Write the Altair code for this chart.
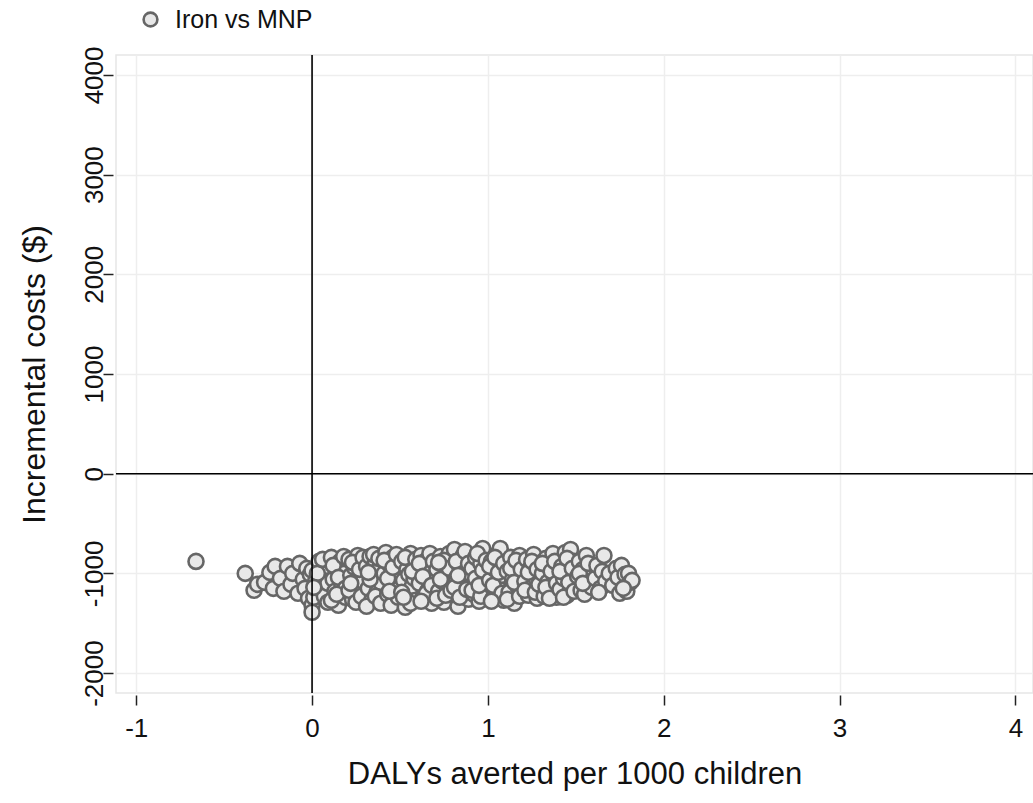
import altair as alt
import pandas as pd

# DALYs averted per 1000 children (x) and incremental costs in $ (y)
dalys = [
    -0.66,
    -0.38, -0.33, -0.31, -0.27, -0.24, -0.22, -0.21,
    -0.18, -0.16, -0.14, -0.12, -0.11,
    -0.08, -0.07, -0.05, -0.04, -0.03, -0.02, -0.01,
    0.00, 0.00, 0.01, 0.00, 0.02, 0.04, 0.05, 0.06, 0.07, 0.08, 0.09, 0.03, 0.06, 0.09, 0.01,
    0.11, 0.12, 0.13, 0.14, 0.15, 0.16, 0.17, 0.18, 0.19, 0.12, 0.15, 0.18, 0.19, 0.11, 0.14,
    0.21, 0.22, 0.23, 0.24, 0.25, 0.26, 0.27, 0.28, 0.29, 0.21, 0.23, 0.25, 0.27, 0.29, 0.22, 0.28,
    0.31, 0.32, 0.33, 0.34, 0.35, 0.36, 0.37, 0.38, 0.39, 0.31, 0.33, 0.35, 0.36, 0.38, 0.39, 0.32,
    0.41, 0.42, 0.43, 0.44, 0.45, 0.46, 0.47, 0.48, 0.49, 0.41, 0.43, 0.45, 0.46, 0.48, 0.49, 0.44,
    0.51, 0.52, 0.53, 0.54, 0.55, 0.56, 0.57, 0.58, 0.59, 0.51, 0.53, 0.55, 0.56, 0.58, 0.59, 0.52, 0.57,
    0.61, 0.62, 0.63, 0.64, 0.65, 0.66, 0.67, 0.68, 0.69, 0.61, 0.63, 0.65, 0.67, 0.68, 0.69, 0.62,
    0.71, 0.72, 0.73, 0.74, 0.75, 0.76, 0.77, 0.78, 0.79, 0.71, 0.73, 0.75, 0.76, 0.78, 0.79, 0.72,
    0.81, 0.82, 0.83, 0.84, 0.85, 0.86, 0.87, 0.88, 0.89, 0.81, 0.82, 0.84, 0.86, 0.87, 0.88, 0.89, 0.83,
    0.91, 0.92, 0.93, 0.94, 0.95, 0.96, 0.97, 0.98, 0.99, 0.91, 0.93, 0.94, 0.96, 0.97, 0.99, 0.95,
    1.01, 1.02, 1.03, 1.04, 1.05, 1.06, 1.07, 1.08, 1.09, 1.01, 1.03, 1.04, 1.06, 1.08, 1.09, 1.02,
    1.11, 1.12, 1.13, 1.14, 1.15, 1.16, 1.17, 1.18, 1.19, 1.11, 1.13, 1.15, 1.16, 1.18, 1.19,
    1.21, 1.22, 1.23, 1.24, 1.25, 1.26, 1.27, 1.28, 1.29, 1.21, 1.23, 1.25, 1.27, 1.28, 1.29,
    1.31, 1.32, 1.33, 1.34, 1.35, 1.36, 1.37, 1.38, 1.39, 1.31, 1.33, 1.35, 1.36, 1.38, 1.39,
    1.41, 1.42, 1.43, 1.44, 1.45, 1.46, 1.47, 1.48, 1.49, 1.41, 1.43, 1.45, 1.46, 1.48, 1.49,
    1.51, 1.52, 1.53, 1.54, 1.55, 1.56, 1.57, 1.58, 1.59, 1.52, 1.54, 1.57,
    1.61, 1.62, 1.64, 1.65, 1.66, 1.67, 1.69, 1.63,
    1.71, 1.73, 1.74, 1.75, 1.76, 1.78, 1.79, 1.80, 1.81, 1.82, 1.77,
]
costs = [
    -880,
    -1000, -1170, -1110, -1090, -990, -1150, -930,
    -1050, -1180, -930, -1110, -1000,
    -1200, -900, -1060, -1150, -950, -1250, -1010,
    -1320, -1390, -1240, -970, -1080, -880, -1160, -1010, -1230, -930, -1100, -1000, -860, -1290, -1140,
    -840, -1060, -1180, -950, -1320, -880, -1120, -1000, -1240, -920, -1040, -830, -1150, -1270, -1210,
    -860, -1020, -1260, -940, -1130, -820, -1200, -990, -1080, -1170, -890, -1290, -960, -840, -1100, -1230,
    -930, -1150, -830, -1270, -1020, -880, -1190, -960, -1090, -1330, -1060, -810, -1230, -850, -1300, -990,
    -1000, -790, -1210, -910, -1110, -840, -1280, -980, -1160, -870, -1050, -1320, -940, -810, -1240, -1180,
    -880, -1070, -1340, -960, -1210, -800, -1130, -920, -1270, -1190, -840, -1010, -1300, -1050, -860, -1240, -980,
    -1100, -820, -1250, -990, -870, -1170, -940, -1300, -1060, -900, -1030, -1200, -800, -1120, -880, -1280,
    -960, -1180, -830, -1080, -1290, -910, -1140, -800, -1010, -1250, -1060, -870, -1220, -950, -1170, -890,
    -760, -1050, -1330, -930, -1190, -820, -1100, -990, -1260, -1140, -880, -1240, -1000, -780, -1160, -900, -1020,
    -950, -1210, -840, -1080, -1280, -900, -750, -1130, -1010, -1170, -1050, -800, -1230, -970, -870, -1120,
    -1070, -880, -1250, -960, -810, -1150, -750, -1020, -1270, -930, -1120, -840, -990, -1200, -900, -1280,
    -980, -1190, -840, -1060, -1300, -910, -1130, -820, -1010, -1260, -950, -1090, -870, -1230, -960,
    -1080, -860, -1220, -950, -1140, -810, -1040, -1250, -900, -1170, -990, -880, -1190, -960, -1110,
    -1000, -1230, -850, -1090, -940, -1180, -800, -1050, -1240, -900, -1140, -1250, -980, -880, -1100,
    -1160, -930, -1050, -790, -1220, -1000, -760, -1120, -880, -980, -1240, -850, -1090, -950, -1180,
    -1030, -880, -1170, -960, -1210, -820, -1080, -940, -1140, -1000, -1100, -900,
    -1050, -920, -1150, -980, -820, -1080, -1000, -1190,
    -1120, -950, -1040, -1200, -920, -1010, -1180, -1000, -1090, -1070, -1150,
]
series_name = "Iron vs MNP"
x_ticks = [-1, 0, 1, 2, 3, 4]
y_ticks = [-2000, -1000, 0, 1000, 2000, 3000, 4000]

FONT = "Liberation Sans"

df = pd.DataFrame({"dalys": dalys, "costs": costs, "series": series_name})

x_scale = alt.Scale(domain=[-1.115, 4.1], nice=False, zero=False)
y_scale = alt.Scale(domain=[-2200, 4200], nice=False, zero=False)

x_axis = alt.Axis(
    values=x_ticks, title="DALYs averted per 1000 children", domain=False,
    labelExpr="datum.value + ''",
    offset=2, tickSize=10, tickWidth=1.5, tickColor="#222222",
    labelPadding=10, labelFontSize=26, labelColor="#111111", labelFont=FONT,
    titleFontSize=31, titleFontWeight="normal", titleFont=FONT, titleColor="#111111",
    titlePadding=18, gridColor="#eeeeee", gridWidth=1.5, labelFlush=False,
)
y_axis = alt.Axis(
    values=y_ticks, title="Incremental costs ($)", domain=False,
    labelExpr="datum.value + ''",
    offset=3, tickSize=10, tickWidth=1.5, tickColor="#222222",
    labelAngle=270, labelAlign="center", labelBaseline="alphabetic", labelPadding=1,
    labelFontSize=26, labelColor="#111111", labelFont=FONT,
    titleFontSize=32, titleFontWeight="normal", titleFont=FONT, titleColor="#111111",
    titlePadding=30, gridColor="#eeeeee", gridWidth=1.5, labelFlush=False,
)

points = alt.Chart(df).mark_point(
    shape="circle", size=225, strokeWidth=2.6, fill="#e8e8e8", fillOpacity=1, opacity=1
).encode(
    x=alt.X("dalys:Q", scale=x_scale, axis=x_axis),
    y=alt.Y("costs:Q", scale=y_scale, axis=y_axis),
    stroke=alt.Stroke(
        "series:N",
        scale=alt.Scale(domain=[series_name], range=["#666666"]),
        legend=alt.Legend(
            title=None, orient="none", legendX=22, legendY=-48,
            symbolType="circle", symbolSize=190, symbolStrokeWidth=2.6,
            symbolFillColor="#ffffff", labelFontSize=25, labelFont=FONT,
            labelColor="#111111", labelOffset=12, padding=0,
        ),
    ),
)

vline = alt.Chart(pd.DataFrame({"x0": [0]})).mark_rule(color="black", strokeWidth=1.6).encode(
    x=alt.X("x0:Q", scale=x_scale)
)
hline = alt.Chart(pd.DataFrame({"y0": [0]})).mark_rule(color="black", strokeWidth=1.6).encode(
    y=alt.Y("y0:Q", scale=y_scale)
)

chart = alt.layer(points, vline, hline).properties(
    width=917, height=638,
    autosize=alt.AutoSizeParams(type="none"),
    padding={"left": 116, "top": 55, "right": 0, "bottom": 110},
    background="white",
).configure_view(
    stroke="#e6e6e6", strokeWidth=1.5
)

chart.save("out.html", embed_options={"renderer": "svg", "actions": False})
